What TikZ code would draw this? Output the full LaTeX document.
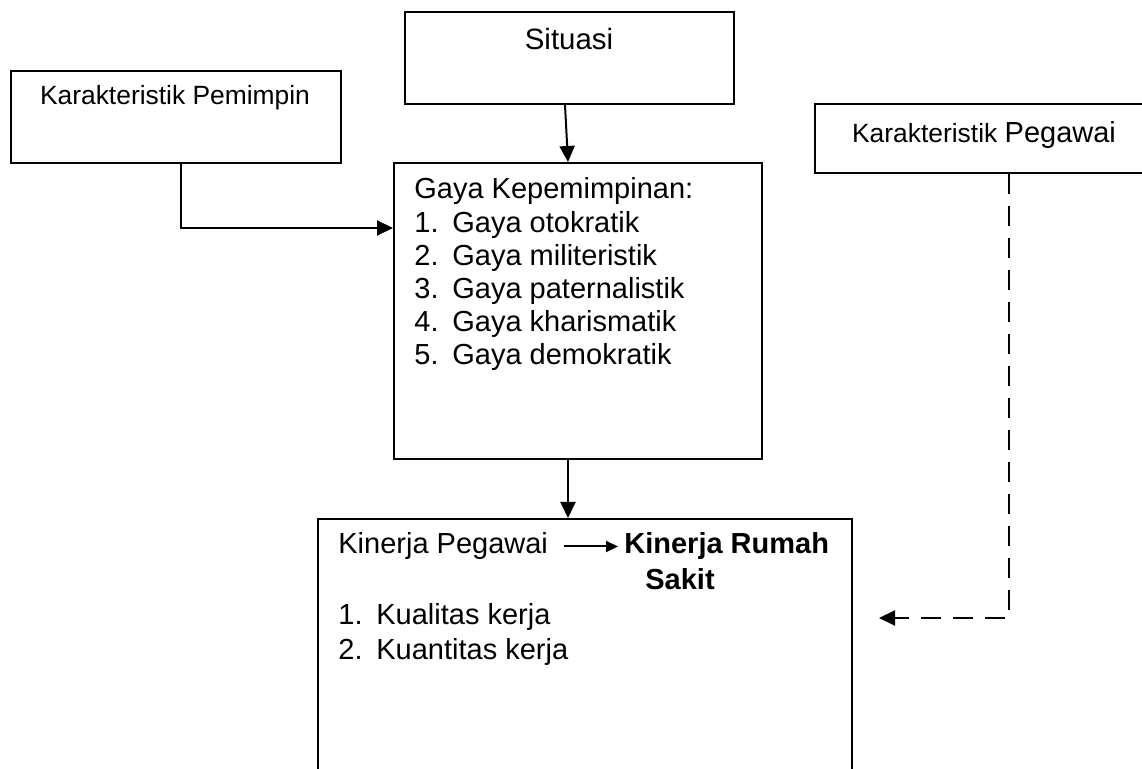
\documentclass[tikz,border=0pt]{standalone}
\usepackage{fontspec}
\setmainfont{Liberation Sans}
\usetikzlibrary{arrows.meta}
\tikzset{
	box/.style = {draw, line width=1pt, anchor=north west, inner sep=0pt},
	txt/.style = {anchor=base west, inner sep=0pt, font=\fontsize{14.5}{17}\selectfont},
	small/.style = {font=\fontsize{13.2}{16}\selectfont},
	arr/.style = {line width=1pt, -{Triangle[length=8pt,width=7.5pt]}},
	dashline/.style = {dash pattern=on 10pt off 6pt},
}
\begin{document}
\begin{tikzpicture}[x=0.5pt, y=-0.5pt]
	\useasboundingbox (0,0) rectangle (1142,769);
	\clip (0,0) rectangle (1142,769);
	% boxes
	\node [box, minimum width=164.5pt, minimum height=46pt] (situasi) at (404,11) {};
	\node [box, minimum width=165pt, minimum height=46pt] (pemimpin) at (10,70) {};
	\node [box, minimum width=170pt, minimum height=34.5pt] (pegawai) at (814,103) {};
	\node [box, minimum width=184pt, minimum height=148pt] (gaya) at (393,162) {};
	\node [box, minimum width=267pt, minimum height=150pt] (kinerja) at (317,518) {};
	% texts
	\node [txt, anchor=base] (tsituasi) at (569,50) {\fontsize{14.7}{17}\selectfont Situasi};
	\node [txt, small, anchor=base] (tpemimpin) at (175,105) {Karakteristik Pemimpin};
	\node [txt, anchor=base] (tpegawai) at (984,143) {\fontsize{13.2}{16}\selectfont Karakteristik \fontsize{14.5}{17}\selectfont Pegawai};
	\node [txt] (tgaya) at (414,199) {Gaya Kepemimpinan:};
	\foreach \n/\t in {1/otokratik, 2/militeristik, 3/paternalistik, 4/kharismatik, 5/demokratik} {
		\node [txt] (gn\n) at (414,199+33.2*\n) {\n.};
		\node [txt] (gt\n) at (452,199+33.2*\n) {Gaya \t};
	}
	\node [txt] (tkp) at (338,554) {Kinerja Pegawai};
	\node [txt] (tkrs) at (624,554) {\bfseries Kinerja Rumah};
	\node [txt] (tsakit) at (645,590) {\bfseries Sakit};
	\node [txt] (kn1) at (338,625) {1.};
	\node [txt] (kt1) at (376,625) {Kualitas kerja};
	\node [txt] (kn2) at (338,660) {2.};
	\node [txt] (kt2) at (376,660) {Kuantitas kerja};
	% connectors
	\coordinate (gk) at ([xshift=-5pt]gaya.south);
	\coordinate (tip) at (879,618);
	\draw [arr] ([xshift=-2.25pt]situasi.south) -- ([xshift=-5pt]gaya.north);
	\draw [arr] ([xshift=2.5pt]pemimpin.south) |- ([yshift=-33pt]gaya.north west);
	\draw [arr] (gk) -- (gk |- kinerja.north);
	\draw [arr, dashline] ([xshift=12pt]pegawai.south) |- (tip);
	\draw [line width=1pt, -{Triangle[length=6pt,width=5.5pt]}] ([xshift=8pt]tkp.east) -- ([xshift=-3pt]tkrs.west);
\end{tikzpicture}
\end{document}
